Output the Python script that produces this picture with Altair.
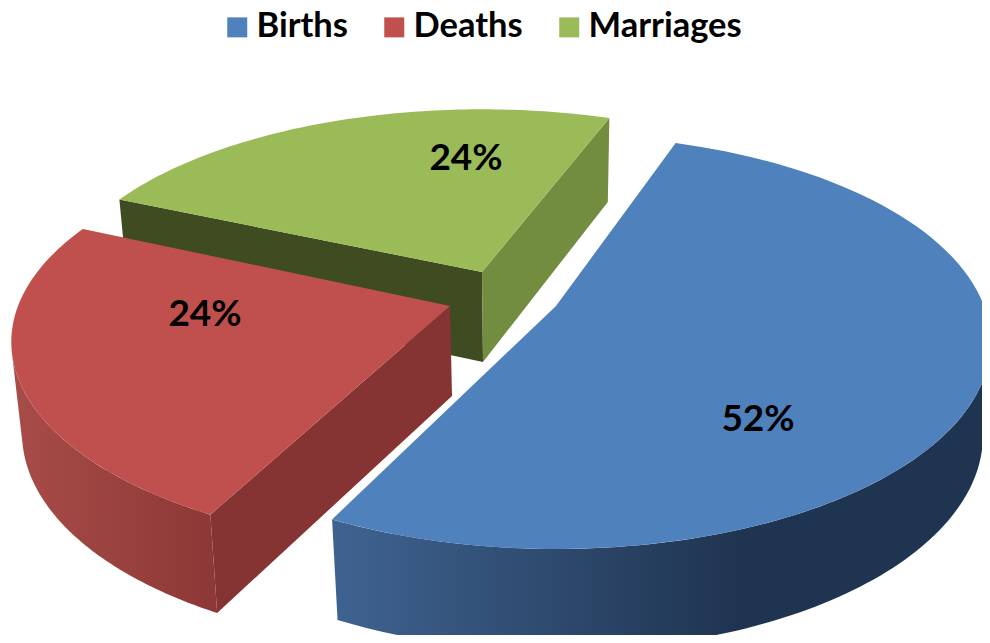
import math
import altair as alt
import pandas as pd

# ---- data
series = ["Births", "Deaths", "Marriages"]
shares = [52, 24, 24]
top_colors = ["#4f81bd", "#c0504d", "#9bbb59"]

# ---- layout of the drawing (perspective of each exploded slice)
W, H = 982, 635
ROT = 19.0
PERSP = 0.174
DEPTH_SCALE = (0.98, 1.04)
slice_geom = {
    "Births": dict(apex=(556, 306), base=(557, 398), A=428, B=200.7, turn=0.0, wall_from=100),
    "Deaths": dict(apex=(450, 306), base=(452, 396), A=432, B=200, turn=1.8, wall_to=257),
    "Marriages": dict(apex=(482, 272), base=(483, 362), A=425, B=191, turn=1.4),
}
label_pos = {"Births": (758, 420), "Deaths": (205, 315), "Marriages": (466, 159)}


def rim(name, deg, bottom=False):
    g = slice_geom[name]
    t = math.radians(deg)
    k = 1 + PERSP * math.cos(t)
    ox, oy = g["base"] if bottom else g["apex"]
    sx, sy = DEPTH_SCALE if bottom else (1, 1)
    return ox + sx * g["A"] * math.sin(t) / k, oy - sy * g["B"] * math.cos(t) / k


spans = {}
acc = ROT
for s, v in zip(series, shares):
    d = v * 3.6
    t = slice_geom[s]["turn"]
    spans[s] = (acc + t, acc + t + d)
    acc += d


def arc(name, a, b, bottom=False):
    n = 90
    return [rim(name, a + (b - a) * i / n, bottom) for i in range(n + 1)]


xs = alt.Scale(domain=[8, W], range=[0, W - 8])
ys = alt.Scale(domain=[H, 8], range=[H - 8, 0])


def poly(pts, fill):
    df = pd.DataFrame({"x": [p[0] for p in pts], "y": [p[1] for p in pts], "i": range(len(pts))})
    return (
        alt.Chart(df)
        .mark_line(fill=fill, stroke=None, strokeWidth=0, interpolate="linear-closed", clip=True)
        .encode(
            x=alt.X("x:Q", scale=xs, axis=None),
            y=alt.Y("y:Q", scale=ys, axis=None),
            order=alt.Order("i:Q"),
        )
    )


def grad(stops):
    return alt.Gradient(
        gradient="linear", x1=0, y1=0, x2=1, y2=0,
        stops=[alt.GradientStop(offset=o, color=c) for o, c in stops],
    )


def top(name):
    g = slice_geom[name]
    return [g["apex"]] + arc(name, *spans[name])


def side(name, deg):
    g = slice_geom[name]
    return [g["apex"], rim(name, deg), rim(name, deg, True), g["base"]]


def wall(name):
    g = slice_geom[name]
    a = g.get("wall_from", spans[name][0])
    b = g.get("wall_to", spans[name][1])
    return arc(name, a, b) + arc(name, b, a, True)


layers = [
    poly(side("Marriages", spans["Marriages"][0]), "#3f4b20"),
    poly(side("Marriages", spans["Marriages"][1]), "#738d40"),
    poly(top("Marriages"), top_colors[2]),
    poly(wall("Deaths"), grad([(0, "#a84c48"), (1, "#8c3836")])),
    poly(side("Deaths", spans["Deaths"][0]), "#863433"),
    poly(top("Deaths"), top_colors[1]),
    poly(wall("Births"), grad([(0, "#3f6391"), (0.62, "#1f3450"), (1, "#1f3450")])),
    poly(top("Births"), top_colors[0]),
]

labels = pd.DataFrame({
    "x": [label_pos[s][0] for s in series],
    "y": [label_pos[s][1] for s in series],
    "t": [f"{v}%" for v in shares],
})
layers.append(
    alt.Chart(labels)
    .mark_text(font="Lato", fontWeight="bold", fontSize=37, color="black")
    .encode(x=alt.X("x:Q", scale=xs, axis=None), y=alt.Y("y:Q", scale=ys, axis=None), text="t:N")
)

legend_df = pd.DataFrame({"series": series})
layers.append(
    alt.Chart(legend_df)
    .mark_square(opacity=0)
    .encode(
        color=alt.Color(
            "series:N",
            scale=alt.Scale(domain=series, range=top_colors),
            legend=alt.Legend(
                orient="none", legendX=212, legendY=2, direction="horizontal", title=None,
                symbolType="square", symbolSize=400, symbolOpacity=1, symbolStrokeWidth=0,
                labelFont="Lato", labelFontWeight="bold", labelFontSize=34.5, labelColor="black",
                labelOffset=2, columnPadding=29, labelLimit=300,
            ),
        )
    )
)

chart = (
    alt.layer(*layers)
    .resolve_scale(x="shared", y="shared")
    .properties(width=W - 8, height=H - 8, padding=0, autosize=alt.AutoSizeParams(type="none"),
                background="white")
    .configure_view(stroke=None)
)
chart.save("out.html", embed_options={"renderer": "svg", "actions": False})
